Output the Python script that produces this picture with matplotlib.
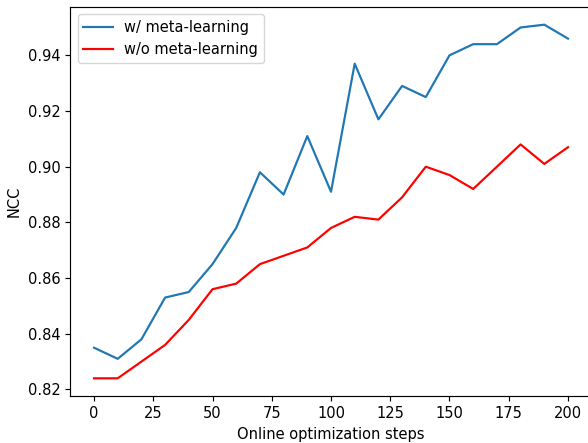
import matplotlib
matplotlib.use("Agg")
import matplotlib.pyplot as plt

steps = list(range(0, 201, 10))
with_meta = [0.835, 0.831, 0.838, 0.853, 0.855, 0.865, 0.878, 0.898, 0.890, 0.911,
             0.891, 0.937, 0.917, 0.929, 0.925, 0.940, 0.944, 0.944, 0.950, 0.951, 0.946]
without_meta = [0.824, 0.824, 0.830, 0.836, 0.845, 0.856, 0.858, 0.865, 0.868, 0.871,
                0.878, 0.882, 0.881, 0.889, 0.900, 0.897, 0.892, 0.900, 0.908, 0.901, 0.907]

s = 1.05
plt.rcParams.update({
    "font.size": 10 * s,
    "lines.linewidth": 1.5 * s,
    "axes.linewidth": 0.8 * s,
    "xtick.major.width": 0.8 * s,
    "ytick.major.width": 0.8 * s,
    "xtick.major.size": 3.5 * s,
    "ytick.major.size": 3.5 * s,
})

fig = plt.figure(figsize=(5.88, 4.43), dpi=100)
W, H = 588, 443
ax = fig.add_axes([70.3 / W, 47 / H, 521.4 / W, 389 / H])
ax.plot(steps, with_meta, color="#1f77b4", label="w/ meta-learning")
ax.plot(steps, without_meta, color="red", label="w/o meta-learning")
ax.set_xlabel("Online optimization steps")
ax.set_ylabel("NCC")
ax.set_xticks([0, 25, 50, 75, 100, 125, 150, 175, 200])
ax.set_yticks([0.82, 0.84, 0.86, 0.88, 0.90, 0.92, 0.94])
ax.legend(loc="upper left")
fig.savefig("out.png", dpi=100)
